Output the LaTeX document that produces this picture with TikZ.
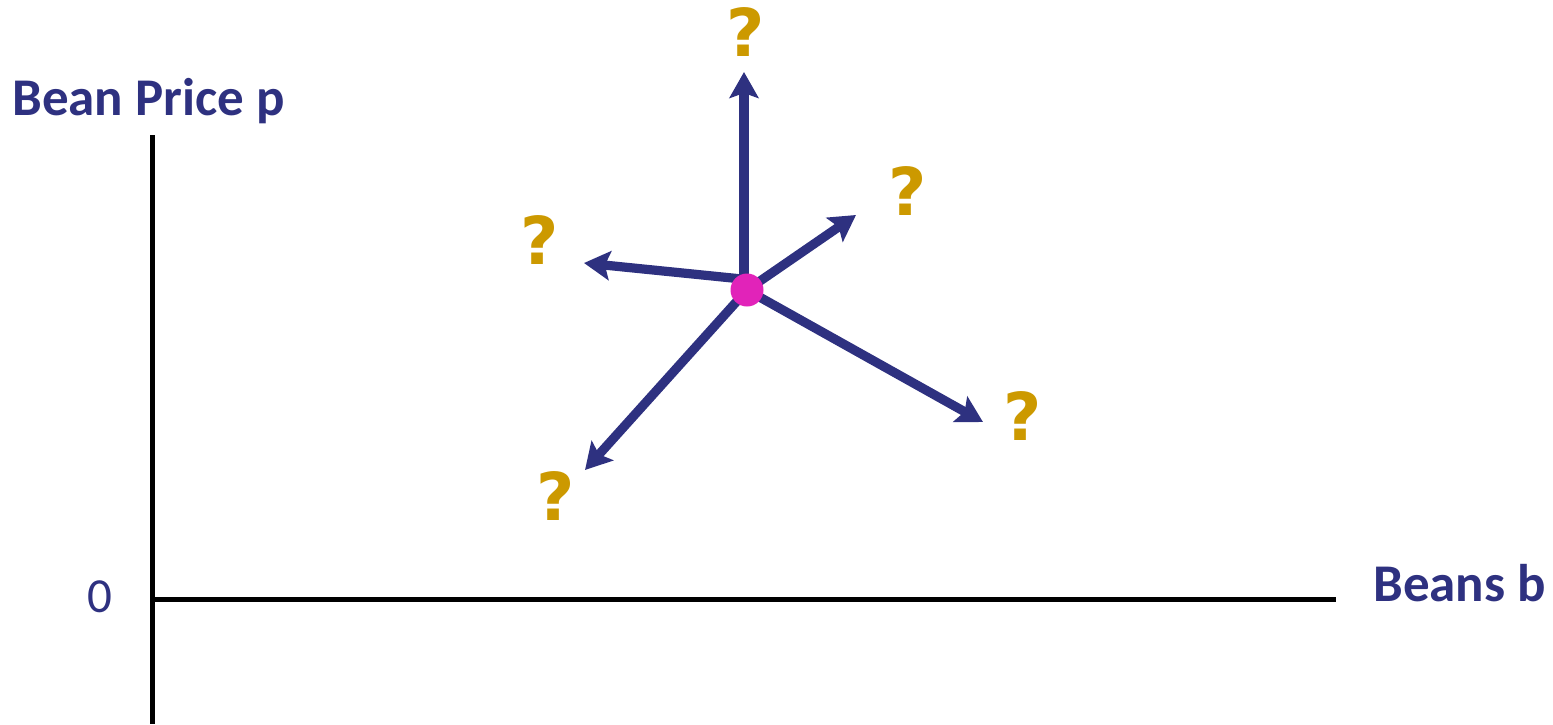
\documentclass[tikz,border=0pt]{standalone}
\usepackage{fontspec}
\setmainfont{Carlito}
\newfontfamily\qfont{DejaVu Sans}
\usetikzlibrary{arrows.meta}
\definecolor{navy}{RGB}{46,49,128}
\definecolor{gold}{RGB}{204,153,0}
\definecolor{magent}{RGB}{225,35,185}
\begin{document}
\begin{tikzpicture}[x=0.5pt,y=-0.5pt,
  axisline/.style={line width=2.5pt,black},
  movearrow/.style={navy,line width=4.6pt,-{Stealth[length=13pt,width=14.5pt,inset=2.5pt]}},
  qmark/.style={text=gold,font=\qfont\bfseries\fontsize{33}{33}\selectfont,inner sep=0pt},
  axlabel/.style={text=navy,font=\bfseries\fontsize{26.5}{26.5}\selectfont,inner sep=0pt}]
\useasboundingbox (0,0) rectangle (1553,724);
% axes
\coordinate (ytop) at (152,135);
\coordinate (ybot) at (152,724);
\coordinate (orig) at (152,599);
\coordinate (xend) at (1336,599);
\draw[axisline] (ytop) -- (ybot);
\draw[axisline] (orig) -- (xend);
\node[axlabel,anchor=base west] (ylab) at (12,115) {Bean Price p};
\node[axlabel,anchor=base west] (xlab) at (1373,601) {Beans b};
\node[text=navy,font=\fontsize{24.5}{24.5}\selectfont,inner sep=0pt,anchor=base] (zero) at (99.5,612) {0};
% point
\coordinate (dot) at (747,290);
\coordinate (sUp) at (744,290);
\coordinate (sL) at (742,279);
\coordinate (tUp) at (744,72);
\coordinate (tUR) at (856,215);
\coordinate (tL) at (584,263);
\coordinate (tDL) at (585,470);
\coordinate (tDR) at (983,422);
\draw[movearrow] (sUp) -- (tUp);
\draw[movearrow] (dot) -- (tUR);
\draw[movearrow] (sL) -- (tL);
\draw[movearrow] (dot) -- (tDL);
\draw[movearrow] (dot) -- (tDR);
\fill[magent] (dot) circle (16.5);
% question marks
\node[qmark] (qUp) at (746,32) {?};
\node[qmark] (qUR) at (908,191) {?};
\node[qmark] (qL) at (540,240) {?};
\node[qmark] (qDL) at (556,496) {?};
\node[qmark] (qDR) at (1023,416) {?};
\end{tikzpicture}
\end{document}
